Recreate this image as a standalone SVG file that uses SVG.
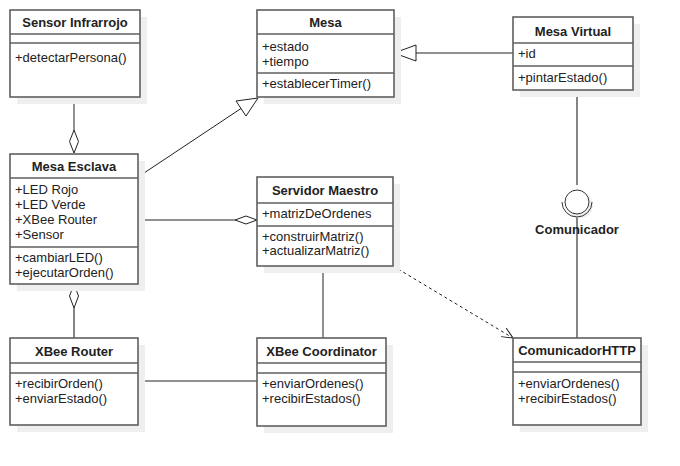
<svg xmlns="http://www.w3.org/2000/svg" width="680" height="466" viewBox="0 0 680 466">
<defs>
<style>
.shadow{fill:#efefef;stroke:none}
.box{fill:#fff;stroke:#5f5f5f;stroke-width:1.6}
.sep{stroke:#5f5f5f;stroke-width:1.6}
.title{font-family:"Liberation Sans",Arial,sans-serif;font-size:13px;font-weight:bold;fill:#222;text-anchor:middle}
.t{font-family:"Liberation Sans",Arial,sans-serif;font-size:13px;fill:#222}
.ln{stroke:#222;stroke-width:1;fill:none}
.gl{stroke:#666;stroke-width:1.6;fill:none}
</style>
<marker id="open" markerWidth="14" markerHeight="12" refX="12" refY="6" orient="auto" markerUnits="userSpaceOnUse">
<path d="M1,1 L12,6 L1,11" fill="none" stroke="#222" stroke-width="1"/>
</marker>
</defs>
<rect width="680" height="466" fill="#fff"/>

<g id="connectors">
<line class="ln" x1="74" y1="97" x2="74" y2="130"/>
<polygon points="74,130 78.5,141.5 74,153 69.5,141.5" fill="#fff" stroke="#222" stroke-width="1"/>
<polygon points="74,284 78.5,296 74,308 69.5,296" fill="#fff" stroke="#222" stroke-width="1"/>
<line class="gl" x1="74" y1="308" x2="74" y2="338"/>
<line class="ln" x1="138" y1="220" x2="235" y2="220"/>
<polygon points="235,220 246,216 257,220 246,224" fill="#fff" stroke="#222" stroke-width="1"/>
<line class="ln" x1="138" y1="177" x2="241" y2="108.5"/>
<polygon points="258,98 236,101 246,116" fill="#fff" stroke="#222" stroke-width="1"/>
<line class="ln" x1="416" y1="53" x2="513" y2="53"/>
<polygon points="394,53 416,45 416,61" fill="#fff" stroke="#222" stroke-width="1"/>
<line class="ln" x1="138" y1="381" x2="257" y2="381"/>
<line class="ln" x1="323" y1="266" x2="323" y2="338"/>
<line class="ln" x1="393" y1="266" x2="513" y2="338" stroke-dasharray="3,3" marker-end="url(#open)"/>
<line class="gl" x1="577" y1="90" x2="577" y2="185"/>
<line class="gl" x1="577" y1="217" x2="577" y2="338"/>
</g>

<g id="comunicador">
<circle cx="580" cy="205" r="13" class="shadow"/>
<circle cx="577" cy="202" r="12" fill="#fff" stroke="#333" stroke-width="1"/>
<path d="M562,202 A15,15 0 0 0 592,202" fill="none" stroke="#333" stroke-width="1"/>
<text class="title" x="577" y="234">Comunicador</text>
</g>

<g id="sensor-infrarrojo">
<rect class="shadow" x="17" y="17" width="130" height="87"/>
<rect class="box" x="10" y="10" width="130" height="87"/>
<line class="sep" x1="10" y1="34" x2="140" y2="34"/>
<line class="sep" x1="10" y1="43" x2="140" y2="43"/>
<text class="title" x="75" y="27">Sensor Infrarrojo</text>
<text class="t" x="15" y="61.5">+detectarPersona()</text>
</g>

<g id="mesa">
<rect class="shadow" x="264" y="17" width="137" height="87"/>
<rect class="box" x="257" y="10" width="137" height="87"/>
<line class="sep" x1="257" y1="34" x2="394" y2="34"/>
<line class="sep" x1="257" y1="73" x2="394" y2="73"/>
<text class="title" x="325.5" y="27">Mesa</text>
<text class="t" x="262" y="50.5">+estado</text>
<text class="t" x="262" y="65.5">+tiempo</text>
<text class="t" x="262" y="87.5">+establecerTimer()</text>
</g>

<g id="mesa-virtual">
<rect class="shadow" x="520" y="24" width="120" height="73"/>
<rect class="box" x="513" y="17" width="120" height="73"/>
<line class="sep" x1="513" y1="43" x2="633" y2="43"/>
<line class="sep" x1="513" y1="66" x2="633" y2="66"/>
<text class="title" x="573" y="36">Mesa Virtual</text>
<text class="t" x="518" y="58">+id</text>
<text class="t" x="518" y="81.5">+pintarEstado()</text>
</g>

<g id="mesa-esclava">
<rect class="shadow" x="17" y="161" width="128" height="130"/>
<rect class="box" x="10" y="154" width="128" height="130"/>
<line class="sep" x1="10" y1="178" x2="138" y2="178"/>
<line class="sep" x1="10" y1="247" x2="138" y2="247"/>
<text class="title" x="74" y="171">Mesa Esclava</text>
<text class="t" x="15" y="193.5">+LED Rojo</text>
<text class="t" x="15" y="208.5">+LED Verde</text>
<text class="t" x="15" y="223.5">+XBee Router</text>
<text class="t" x="15" y="238.5">+Sensor</text>
<text class="t" x="15" y="261.5">+cambiarLED()</text>
<text class="t" x="15" y="277">+ejecutarOrden()</text>
</g>

<g id="servidor-maestro">
<rect class="shadow" x="264" y="184" width="136" height="89"/>
<rect class="box" x="257" y="177" width="136" height="89"/>
<line class="sep" x1="257" y1="203" x2="393" y2="203"/>
<line class="sep" x1="257" y1="226" x2="393" y2="226"/>
<text class="title" x="325" y="195">Servidor Maestro</text>
<text class="t" x="262" y="217.5">+matrizDeOrdenes</text>
<text class="t" x="262" y="241">+construirMatriz()</text>
<text class="t" x="262" y="255">+actualizarMatriz()</text>
</g>

<g id="xbee-router">
<rect class="shadow" x="17" y="345" width="128" height="87"/>
<rect class="box" x="10" y="338" width="128" height="87"/>
<line class="sep" x1="10" y1="363" x2="138" y2="363"/>
<line class="sep" x1="10" y1="373" x2="138" y2="373"/>
<text class="title" x="74" y="355.5">XBee Router</text>
<text class="t" x="15" y="387.5">+recibirOrden()</text>
<text class="t" x="15" y="403">+enviarEstado()</text>
</g>

<g id="xbee-coordinator">
<rect class="shadow" x="264" y="345" width="129" height="88"/>
<rect class="box" x="257" y="338" width="129" height="88"/>
<line class="sep" x1="257" y1="363" x2="386" y2="363"/>
<line class="sep" x1="257" y1="373" x2="386" y2="373"/>
<text class="title" x="321.5" y="355.5">XBee Coordinator</text>
<text class="t" x="262" y="387.5">+enviarOrdenes()</text>
<text class="t" x="262" y="403">+recibirEstados()</text>
</g>

<g id="comunicador-http">
<rect class="shadow" x="520" y="345" width="128" height="87"/>
<rect class="box" x="513" y="338" width="128" height="87"/>
<line class="sep" x1="513" y1="362" x2="641" y2="362"/>
<line class="sep" x1="513" y1="372" x2="641" y2="372"/>
<text class="title" x="577" y="355">ComunicadorHTTP</text>
<text class="t" x="518" y="387.5">+enviarOrdenes()</text>
<text class="t" x="518" y="402.5">+recibirEstados()</text>
</g>
</svg>
